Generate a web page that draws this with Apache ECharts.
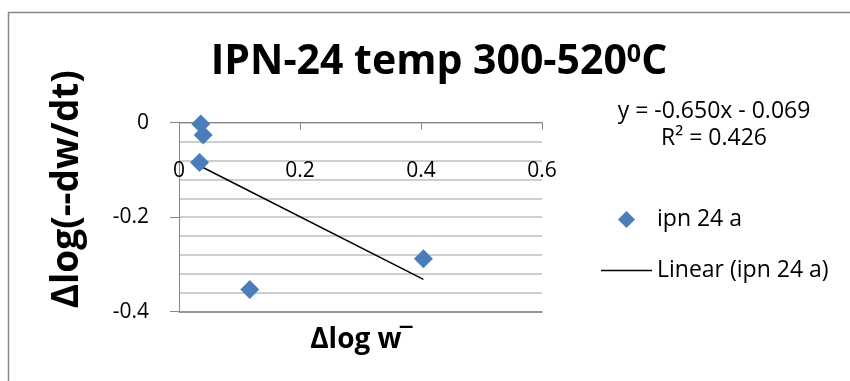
<!DOCTYPE html>
<html>
<head>
<meta charset="utf-8">
<script src="https://cdn.jsdelivr.net/npm/echarts@6/dist/echarts.min.js"></script>
<style>
html,body{margin:0;padding:0;background:#fff;}
#chart{width:850px;height:381px;}
</style>
</head>
<body>
<div id="chart"></div>
<script>
// ---- data ----
const xValues = [0.036, 0.040, 0.034, 0.117, 0.404];
const yValues = [-0.003, -0.026, -0.084, -0.353, -0.288];
const trendSlope = -0.650;
const trendIntercept = -0.069;
const rSquared = 0.426;
const xTickLabels = ['0', '0.2', '0.4', '0.6'];
const yTickLabels = ['-0.4', '-0.2', '0'];
const seriesName = 'ipn 24 a';
const trendName = 'Linear (ipn 24 a)';

const FONT = '"Open Sans", "Liberation Sans", sans-serif';

const points = xValues.map((x, i) => [x, yValues[i]]);
const xMin = Math.min(...xValues), xMax = Math.max(...xValues);
const trendPoints = [xMin, xMax].map(x => [x, trendSlope * x + trendIntercept]);

const chart = echarts.init(document.getElementById('chart'), null, {renderer: 'canvas'});

const option = {
  backgroundColor: '#fff',
  animation: false,
  title: {
    text: 'IPN-24 temp 300-520{sup|0}C',
    left: 434,
    textAlign: 'center',
    top: 37,
    textStyle: {
      fontFamily: FONT, fontWeight: 'bold', fontSize: 41, color: '#000',
      rich: {
        sup: {fontFamily: FONT, fontWeight: 'bold', fontSize: 25, color: '#000', verticalAlign: 'top', padding: [0, 0, 14, 0]}
      }
    }
  },
  grid: {left: 179, top: 122.7, right: 308, bottom: 69.3, containLabel: false},
  legend: {
    orient: 'vertical',
    left: 596,
    top: 203,
    itemWidth: 51,
    itemHeight: 17,
    itemGap: 28,
    textStyle: {fontFamily: FONT, fontSize: 23, color: '#000', lineHeight: 17},
    data: [
      {name: seriesName, icon: 'path://M1,0L2,1L1,2L0,1Z'},
      {name: trendName, icon: 'path://M0,0L34,0L34,1L0,1Z'}
    ]
  },
  xAxis: [
    {
      type: 'value', position: 'top', min: 0, max: 0.6, interval: 0.2,
      axisLine: {show: true, onZero: false, lineStyle: {color: '#868686', width: 1}},
      axisTick: {show: true, inside: true, length: 7, lineStyle: {color: '#868686'}},
      axisLabel: {
        inside: true, margin: 38, color: '#000', fontFamily: FONT, fontSize: 21,
        formatter: (v) => { const i = Math.round(v / 0.2); return xTickLabels[i] !== undefined ? xTickLabels[i] : ''; }
      },
      splitLine: {show: false}
    },
    {
      type: 'value', position: 'bottom', min: 0, max: 0.6, interval: 0.2,
      axisLine: {show: true, onZero: false, lineStyle: {color: '#868686', width: 1.5}},
      axisTick: {show: false}, axisLabel: {show: false}, splitLine: {show: false},
      name: 'Δlog w‾', nameLocation: 'middle', nameGap: 14,
      nameTextStyle: {fontFamily: FONT, fontWeight: 'bold', fontSize: 28, color: '#000'}
    }
  ],
  yAxis: {
    type: 'value', min: -0.4, max: 0, interval: 0.2,
    axisLine: {show: true, onZero: false, lineStyle: {color: '#868686', width: 1}},
    axisTick: {show: true, length: 9, lineStyle: {color: '#868686'}},
    axisLabel: {
      margin: 30, color: '#000', fontFamily: FONT, fontSize: 21,
      formatter: (v) => { const i = Math.round((v + 0.4) / 0.2); return yTickLabels[i] !== undefined ? yTickLabels[i] : ''; }
    },
    splitLine: {show: true, lineStyle: {color: '#bfbfbf', width: 1.5}},
    minorTick: {show: false, splitNumber: 5},
    minorSplitLine: {show: true, lineStyle: {color: '#bfbfbf', width: 1.5}},
    name: 'Δlog(--dw/dt)', nameLocation: 'middle', nameGap: 93,
    nameTextStyle: {fontFamily: FONT, fontWeight: 'bold', fontSize: 37, color: '#000', padding: [0, 0, 0, 56]}
  },
  series: [
    {
      name: seriesName, type: 'scatter', xAxisIndex: 0, data: points,
      symbol: 'diamond', symbolSize: 19,
      itemStyle: {color: '#4a7ebb', opacity: 1}, z: 3
    },
    {
      name: trendName, type: 'line', xAxisIndex: 0, data: trendPoints,
      symbol: 'none', showSymbol: false,
      lineStyle: {color: '#000', width: 1.5}, itemStyle: {color: '#000'}, z: 2
    }
  ],
  graphic: [
    {
      type: 'rect', left: 6, top: 10, silent: true, z: -10,
      shape: {width: 860, height: 390},
      style: {fill: 'none', stroke: '#868686', lineWidth: 1.5}
    },
    {
      type: 'text', silent: true,
      style: {
        x: 714, y: 111,
        text: 'y = ' + trendSlope.toFixed(3) + 'x - ' + Math.abs(trendIntercept).toFixed(3),
        fontFamily: FONT, fontSize: 23, fill: '#000', textAlign: 'center', textVerticalAlign: 'middle'
      }
    },
    {
      type: 'text', silent: true,
      style: {
        x: 714, y: 138,
        text: 'R² = ' + rSquared.toFixed(3),
        fontFamily: FONT, fontSize: 23, fill: '#000', textAlign: 'center', textVerticalAlign: 'middle'
      }
    }
  ]
};
chart.setOption(option);
</script>
</body>
</html>
